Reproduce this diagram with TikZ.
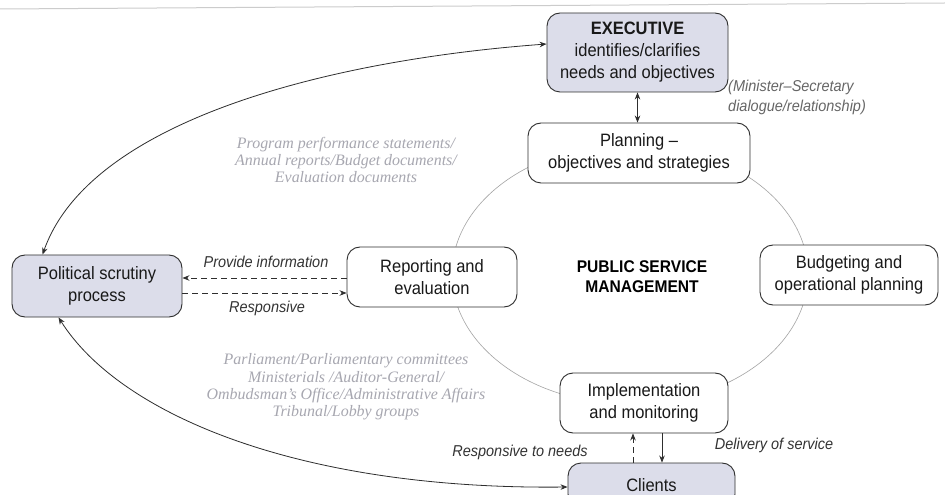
\documentclass[tikz,border=0pt]{standalone}
\usepackage{fontspec}
\setmainfont{Liberation Sans}[FakeStretch=0.92]
\newfontfamily\notefont{Liberation Serif}
\usetikzlibrary{arrows.meta,calc}
\definecolor{boxfill}{HTML}{DCDDEA}
\definecolor{boxline}{HTML}{2E2E2E}
\definecolor{notegray}{HTML}{A7A7B0}
\definecolor{ringgray}{HTML}{A4A4A4}
\definecolor{labelgray}{HTML}{333333}
\definecolor{asidegray}{HTML}{666666}

\begin{document}
\begin{tikzpicture}[x=1bp,y=-1bp,
  >={Stealth[length=7bp,width=5.5bp]},
  box/.style={draw=boxline, line width=0.9bp, rounded corners=13bp, align=center,
    inner sep=0pt, font=\fontsize{18}{22}\selectfont, text=black!90},
  shaded/.style={box, fill=boxfill},
  plain/.style={box, fill=white},
  lbl/.style={font=\fontsize{15.8}{20}\selectfont\itshape, text=labelgray, inner sep=0pt},
  note/.style={font=\notefont\fontsize{16}{17.5}\selectfont\itshape, text=notegray,
    align=center, inner sep=0pt},
  link/.style={draw=boxline, line width=0.8bp},
  dashlink/.style={link, dash pattern=on 6bp off 4bp},
]
\useasboundingbox (0,0) rectangle (945,495);
\clip (0,0) rectangle (945,495);
\fill[white] (0,0) rectangle (945,495);

% edge of the page
\draw[gray!40, line width=1bp] (0,9) -- (945,3);

% management cycle ring
\draw[ringgray, line width=0.6bp] (630,274) ellipse [x radius=178, y radius=130];

% boxes
\node[shaded, minimum width=181bp, minimum height=79bp] (exec) at (637.5,52.5)
  {{\bfseries EXECUTIVE}\\identifies/clarifies\\needs and objectives};
\node[plain, minimum width=222bp, minimum height=60bp] (plan) at (639,153)
  {Planning --\\objectives and strategies};
\node[shaded, minimum width=170bp, minimum height=62bp] (pol) at (97,286)
  {Political scrutiny\\process};
\node[plain, minimum width=170bp, minimum height=60bp] (rep) at (432,277)
  {Reporting and\\evaluation};
\node[plain, minimum width=178bp, minimum height=60bp] (bud) at (849,275)
  {Budgeting and\\operational planning};
\node[plain, minimum width=168bp, minimum height=60bp] (impl) at (644,403)
  {Implementation\\and monitoring};
\node[shaded, minimum width=167bp, minimum height=44bp] (cli) at (651.5,485)
  {Clients};

\node[font=\fontsize{17}{20}\selectfont\bfseries, align=center, inner sep=0pt] (psm)
  at (642,277) {PUBLIC SERVICE\\MANAGEMENT};

% connectors
\draw[link, <->] (exec.south) -- (exec.south |- plan.north);
\draw[link, <->] ([xshift=31bp]pol.north west) .. controls (90,120) and (330,60) ..
  ([yshift=8.5bp]exec.west);
\draw[link, <->] ([xshift=47bp]pol.south west) .. controls (120,415) and (300,490) ..
  ([yshift=-2bp]cli.west);

\coordinate (provide) at ([yshift=8bp]pol.east);
\coordinate (respond) at ([yshift=-7bp]pol.east);
\draw[dashlink, ->] (provide -| rep.west) -- (provide);
\draw[dashlink, ->] (respond) -- (respond -| rep.west);

\coordinate (upline) at ([xshift=-11bp]impl.south);
\coordinate (downline) at ([xshift=18bp]impl.south);
\draw[dashlink, ->] (upline |- cli.north) -- (upline);
\draw[link, ->] (downline) -- (downline |- cli.north);

% labels
\node[lbl] (provideLbl) at (266,262) {Provide information};
\node[lbl] (respLbl) at (267,308) {Responsive};
\node[lbl] (needsLbl) at (520,452) {Responsive to needs};
\node[lbl] (deliveryLbl) at (774,445) {Delivery of service};
\node[lbl, text=asidegray, align=left, anchor=west] (minister) at (728,97)
  {(Minister--Secretary\\dialogue/relationship)};

\node[note] (docs) at (346,160)
  {Program performance statements/\\Annual reports/Budget documents/\\Evaluation documents};
\node[note] (bodies) at (346,387)
  {Parliament/Parliamentary committees\\Ministerials /Auditor-General/\\Ombudsman’s Office/Administrative Affairs\\Tribunal/Lobby groups};
\end{tikzpicture}
\end{document}
